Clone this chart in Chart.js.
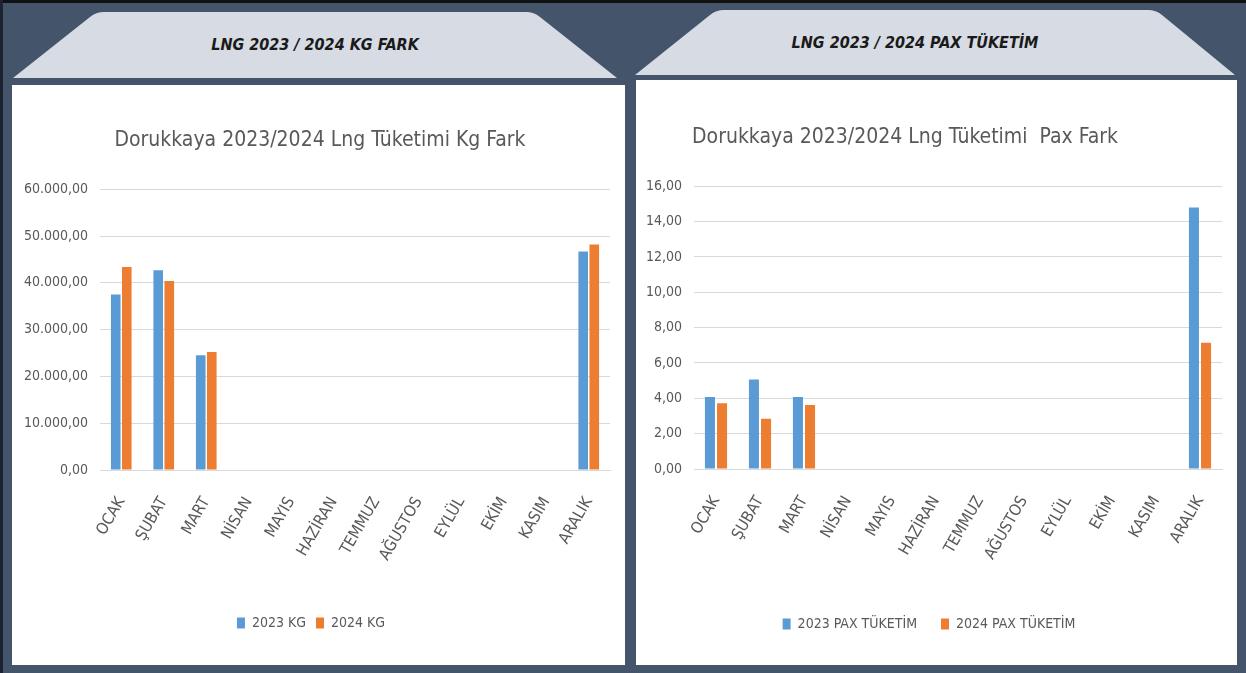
<!DOCTYPE html>
<html>
<head>
<meta charset="utf-8">
<script src="https://cdn.jsdelivr.net/npm/chart.js@4.4.0/dist/chart.umd.min.js"></script>
<style>
  html, body { margin: 0; padding: 0; }
  body {
    width: 1246px; height: 673px; position: relative; overflow: hidden;
    background: #44546a;
    font-family: 'Liberation Sans Narrow', 'DejaVu Sans Condensed', sans-serif;
  }
  .topline { position: absolute; left: 0; top: 0; width: 1246px; height: 3px; background: #111; }
  .leftline { position: absolute; left: 0; top: 0; width: 3px; height: 673px; background: #1c2230; }
  svg.hdr { position: absolute; left: 0; top: 0; }
  .hdrText {
    position: absolute; top: 33px; height: 24px; line-height: 24px;
    text-align: center; font-weight: bold; font-style: italic; font-size: 16px; color: #1a1a1a;
  }
  .panel { position: absolute; background: #fff; }
</style>
</head>
<body>
<div class="topline"></div>
<div class="leftline"></div>
<svg class="hdr" width="1246" height="90">
  <path d="M13,78 L90,17 Q96,12 104,12 L526,12 Q534,12 540,17 L617,78 Z" fill="#d6dbe4"/>
  <path d="M635,75 L710,15 Q716,10 724,10 L1148,10 Q1156,10 1162,15 L1235,75 Z" fill="#d6dbe4"/>
</svg>
<div class="hdrText" style="left:13px;width:604px;">LNG 2023 / 2024 KG FARK</div>
<div class="hdrText" style="left:615px;width:600px;top:31px;">LNG 2023 / 2024 PAX TÜKETİM</div>

<div class="panel" style="left:12px;top:85px;width:613px;height:580px;">
  <canvas id="kgChart" width="613" height="580"></canvas>
</div>
<div class="panel" style="left:636px;top:80px;width:601px;height:585px;">
  <canvas id="paxChart" width="601" height="585"></canvas>
</div>

<script>
const months = ['OCAK', 'ŞUBAT', 'MART', 'NİSAN', 'MAYIS', 'HAZİRAN', 'TEMMUZ', 'AĞUSTOS', 'EYLÜL', 'EKİM', 'KASIM', 'ARALIK'];

const kg2023 = [37500, 42700, 24500, null, null, null, null, null, null, null, null, 46700];
const kg2024 = [43400, 40400, 25200, null, null, null, null, null, null, null, null, 48200];

const pax2023 = [4.08, 5.07, 4.08, null, null, null, null, null, null, null, null, 14.8];
const pax2024 = [3.72, 2.85, 3.62, null, null, null, null, null, null, null, null, 7.14];

const FONT = "'Liberation Sans Narrow', 'DejaVu Sans Condensed', sans-serif";
const GREY = '#595959';
const BLUE = '#5b9bd5';
const ORANGE = '#ed7d31';

// Turkish number format: 60.000,00
function trNum(v) {
  const parts = Math.abs(v).toFixed(2).split('.');
  return parts[0].replace(/\B(?=(\d{3})+(?!\d))/g, '.') + ',' + parts[1];
}

function makeChart(id, cfg) {
  return new Chart(document.getElementById(id).getContext('2d'), {
    type: 'bar',
    data: {
      labels: months,
      datasets: [
        { label: cfg.labels[0], data: cfg.a, backgroundColor: BLUE, barPercentage: cfg.bp, categoryPercentage: cfg.cp },
        { label: cfg.labels[1], data: cfg.b, backgroundColor: ORANGE, barPercentage: cfg.bp, categoryPercentage: cfg.cp }
      ]
    },
    options: {
      responsive: false,
      animation: false,
      layout: { padding: { left: 0, right: 15, top: 0, bottom: cfg.padBottom } },
      scales: {
        x: {
          grid: { display: false },
          border: { color: '#d9d9d9' },
          ticks: { color: GREY, font: { family: FONT, size: 16 }, minRotation: 60, maxRotation: 60, padding: 16 },
          afterFit: s => { s.height = cfg.xHeight; }
        },
        y: {
          min: 0, max: cfg.max,
          grid: { color: '#d9d9d9', drawTicks: false },
          border: { display: false },
          ticks: { stepSize: cfg.step, color: GREY, font: { family: FONT, size: 14 }, padding: 12, callback: v => trNum(v) },
          afterFit: s => { s.width = cfg.yWidth; }
        }
      },
      plugins: {
        title: {
          display: true, text: cfg.title, color: GREY,
          font: { family: FONT, size: 21, weight: 'normal' },
          padding: { top: cfg.titleTop, bottom: cfg.titleBottom }
        },
        legend: {
          position: 'bottom',
          labels: { color: GREY, font: { family: FONT, size: 14 }, boxWidth: 8, boxHeight: 11, padding: cfg.legendPad }
        },
        tooltip: { enabled: false }
      }
    }
  });
}

makeChart('kgChart', {
  labels: ['2023 KG', '2024 KG'], a: kg2023, b: kg2024,
  title: '   Dorukkaya 2023/2024 Lng Tüketimi Kg Fark',
  max: 60000, step: 10000, yWidth: 88, xHeight: 136, padBottom: 25,
  titleTop: 43, titleBottom: 36, bp: 0.87, cp: 0.52, legendPad: 10
});

makeChart('paxChart', {
  labels: ['2023 PAX TÜKETİM', '2024 PAX TÜKETİM'], a: pax2023, b: pax2024,
  title: 'Dorukkaya 2023/2024 Lng Tüketimi  Pax Fark        ',
  max: 16, step: 2, yWidth: 58, xHeight: 124, padBottom: 24,
  titleTop: 45, titleBottom: 36, bp: 0.83, cp: 0.55, legendPad: 24
});
</script>
</body>
</html>
